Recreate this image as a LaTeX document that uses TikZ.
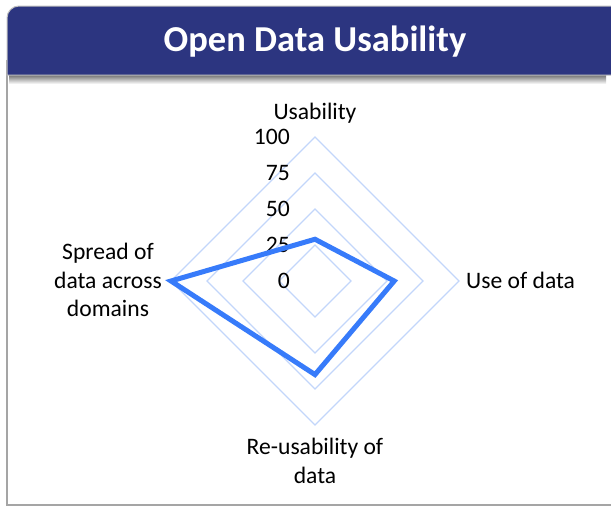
\documentclass[tikz,border=0pt]{standalone}
\usepackage{fontspec}
\setmainfont{Carlito}
\usetikzlibrary{positioning, calc}
\definecolor{titleblue}{RGB}{44,53,128}
\definecolor{seriesblue}{RGB}{55,123,250}
\definecolor{ringblue}{RGB}{195,214,250}
\definecolor{framegray}{RGB}{165,165,165}

\begin{document}
\begin{tikzpicture}[
        x=1pt, y=-1pt,
        ring/.style={draw=ringblue, line width=1.3pt},
        series/.style={draw=seriesblue, line width=5pt},
        axislabel/.style={inner sep=0pt, align=center, font=\fontsize{23.6}{28.5}\selectfont},
        ticklabel/.style={inner sep=0pt, anchor=east, font=\fontsize{23.6}{28.5}\selectfont},
        titletext/.style={inner sep=0pt, text=white, font=\fontsize{36.5}{40}\selectfont\bfseries}
    ]
        \useasboundingbox (0,0) rectangle (611,506);
        % frame and title bar
        \draw[framegray, line width=1.5pt] (7,60) -- (7,505) -- (640,505);
        \shade[top color=black!55, bottom color=white] (9,75) rectangle (606,84);
        \fill[titleblue, draw=framegray!70, line width=1pt] (7,75) [rounded corners=12pt] -- (7,6) -- (640,6) [sharp corners] -- (640,75) -- cycle;
        \node[titletext] (title) at (315,42) {Open Data Usability};

        % radar chart
        \begin{scope}[shift={(315,281)}, x=1.44pt, y=1.44pt]
            \foreach \r in {25,50,75,100}
                \draw[ring] (0,\r) -- (\r,0) -- (0,-\r) -- (-\r,0) -- cycle;
            \foreach \v in {0,25,50,75,100}
                \node[ticklabel] (tick\v) at (-17.4,\v) {\v};
            \coordinate (usab) at (0,29);
            \coordinate (use) at (55,0);
            \coordinate (reuse) at (0,-65);
            \coordinate (spread) at (-100,0);
            \draw[series] (usab) -- (use) -- (reuse) -- (spread) -- cycle;
        \end{scope}

        \node[axislabel] (lblusab) at (315,113) {Usability};
        \node[axislabel, anchor=west] (lbluse) at (466,280) {Use of data};
        \node[axislabel] (lblreuse) at (315,461) {Re-usability of\\data};
        \node[axislabel] (lblspread) at (108,280) {Spread of\\data across\\domains};
    \end{tikzpicture}
\end{document}
